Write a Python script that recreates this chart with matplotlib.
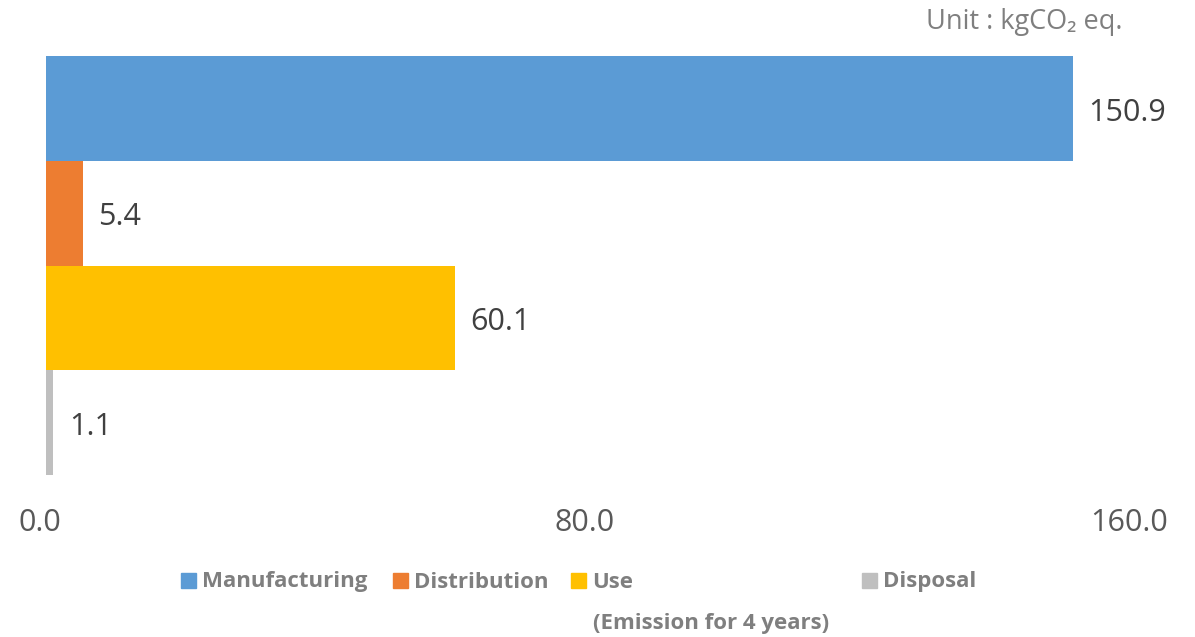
import matplotlib.pyplot as plt
import matplotlib.transforms as mtransforms
from matplotlib.patches import Rectangle

plt.rcParams['font.family'] = ['Open Sans', 'DejaVu Sans']

# data
stages = ['Manufacturing', 'Distribution', 'Use', 'Disposal']
emissions = [150.9, 5.4, 60.1, 1.1]
colors = ['#5B9BD5', '#ED7D31', '#FFC000', '#BFBFBF']
xticks = [0, 80, 160]
xticklabels = ['0.0', '80.0', '160.0']

fig = plt.figure(figsize=(11.95, 6.37), dpi=100)
ax = fig.add_axes([46 / 1195, 1 - 475 / 637, (1135 - 46) / 1195, (475 - 56) / 637])

ypos = list(range(len(stages)))
ax.barh(ypos, emissions, height=1.0, color=colors)
ax.set_xlim(0, 160)
ax.set_ylim(len(stages) - 0.5, -0.5)

for y, v in zip(ypos, emissions):
    ax.annotate(f"{v:.1f}", xy=(v, y), xytext=(11, -3), textcoords='offset points',
                ha='left', va='center', fontsize=22, color='#404040')

ax.set_xticks(xticks)
ax.set_xticklabels(xticklabels, fontsize=22, color='#595959')
ax.set_yticks([])
ax.tick_params(axis='x', length=0, pad=24)
for s in ax.spines.values():
    s.set_visible(False)

# nudge tick labels left like the original
for lab in ax.get_xticklabels():
    lab.set_transform(lab.get_transform() + mtransforms.ScaledTranslation(-6 / 100, 0, fig.dpi_scale_trans))

fig.text(1122 / 1195, 1 - 22 / 637, 'Unit : kgCO\u2082 eq.', ha='right', va='center',
         fontsize=19.5, color='#7F7F7F')

# legend drawn by hand to keep the wide gap before "Disposal"
leg_x = [181, 393, 571, 862]
leg_y = 580
for name, c, x in zip(stages, colors, leg_x):
    fig.patches.append(Rectangle((x / 1195, 1 - (leg_y + 7.5) / 637), 15 / 1195, 15 / 637,
                                 transform=fig.transFigure, color=c))
    fig.text((x + 21) / 1195, 1 - (leg_y + 2) / 637, name, ha='left', va='center',
             fontsize=16, fontweight='bold', color='#7F7F7F')

fig.text(593 / 1195, 1 - 624 / 637, '(Emission for 4 years)', ha='left', va='center',
         fontsize=16, fontweight='bold', color='#7F7F7F')

fig.savefig('out.png', dpi=100)
